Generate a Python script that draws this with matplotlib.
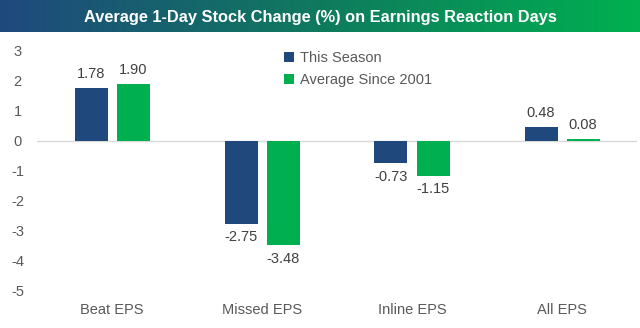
import numpy as np
import matplotlib
matplotlib.use("Agg")
import matplotlib.pyplot as plt
from matplotlib.colors import LinearSegmentedColormap

categories = ["Beat EPS", "Missed EPS", "Inline EPS", "All EPS"]
this_season = [1.78, -2.75, -0.73, 0.48]
avg_since_2001 = [1.90, -3.48, -1.15, 0.08]
series_names = ["This Season", "Average Since 2001"]
yticks = [3, 2, 1, 0, -1, -2, -3, -4, -5]

navy = "#1F497D"
green = "#00B050"
txt = "#595959"

plt.rcParams['font.family'] = ['Liberation Sans', 'DejaVu Sans']

fig = plt.figure(figsize=(6.4, 3.28), dpi=100)

# Title bar with gradient
tax = fig.add_axes([0, 1 - 32/328, 1, 32/328])
cmap = LinearSegmentedColormap.from_list("g", [navy, "#0F7A5E", green])
tax.imshow(np.linspace(0, 1, 256)[None, :], aspect='auto', cmap=cmap, extent=[0, 1, 0, 1])
tax.set_axis_off()
tax.text(0.5, 0.45, "Average 1-Day Stock Change (%) on Earnings Reaction Days",
         color="white", fontsize=11.8, fontweight="bold", ha="center", va="center")

ax = fig.add_axes([37/640, 1 - 291/328, 600/640, 240/328])
x = np.arange(len(categories))
w = 0.22
off = 0.14
b1 = ax.bar(x - off, this_season, w, color=navy, label=series_names[0])
b2 = ax.bar(x + off, avg_since_2001, w, color=green, label=series_names[1])
ax.set_xlim(-0.5, len(categories) - 0.5)
ax.set_ylim(-5, 3)
ax.set_yticks(yticks)
ax.set_yticklabels([str(t) for t in yticks])
ax.set_xticks(x)
ax.set_xticklabels(categories)
ax.axhline(0, color="#D9D9D9", lw=1, zorder=0)
for s in ax.spines.values():
    s.set_visible(False)
ax.tick_params(axis='both', length=0, labelsize=10.5, colors=txt)
ax.tick_params(axis='y', pad=14)
ax.tick_params(axis='x', pad=9)
for t in ax.get_yticklabels():
    t.set_horizontalalignment('center')

for bars, vals in ((b1, this_season), (b2, avg_since_2001)):
    for r, v in zip(bars, vals):
        cx = r.get_x() + r.get_width() / 2
        if v >= 0:
            ax.annotate(f"{v:.2f}", (cx, v), xytext=(0, 5), textcoords="offset points",
                        ha="center", va="bottom", fontsize=10.5, color="#404040")
        else:
            ax.annotate(f"{v:.2f}", (cx, v), xytext=(0, -5), textcoords="offset points",
                        ha="center", va="top", fontsize=10.5, color="#404040")

leg = ax.legend(loc="upper left", bbox_to_anchor=(0.39, 1.055), frameon=False,
                fontsize=10.5, handlelength=0.7, handleheight=0.7, handletextpad=0.4,
                labelspacing=0.55)
for t in leg.get_texts():
    t.set_color(txt)

fig.savefig("out.png", dpi=100)
